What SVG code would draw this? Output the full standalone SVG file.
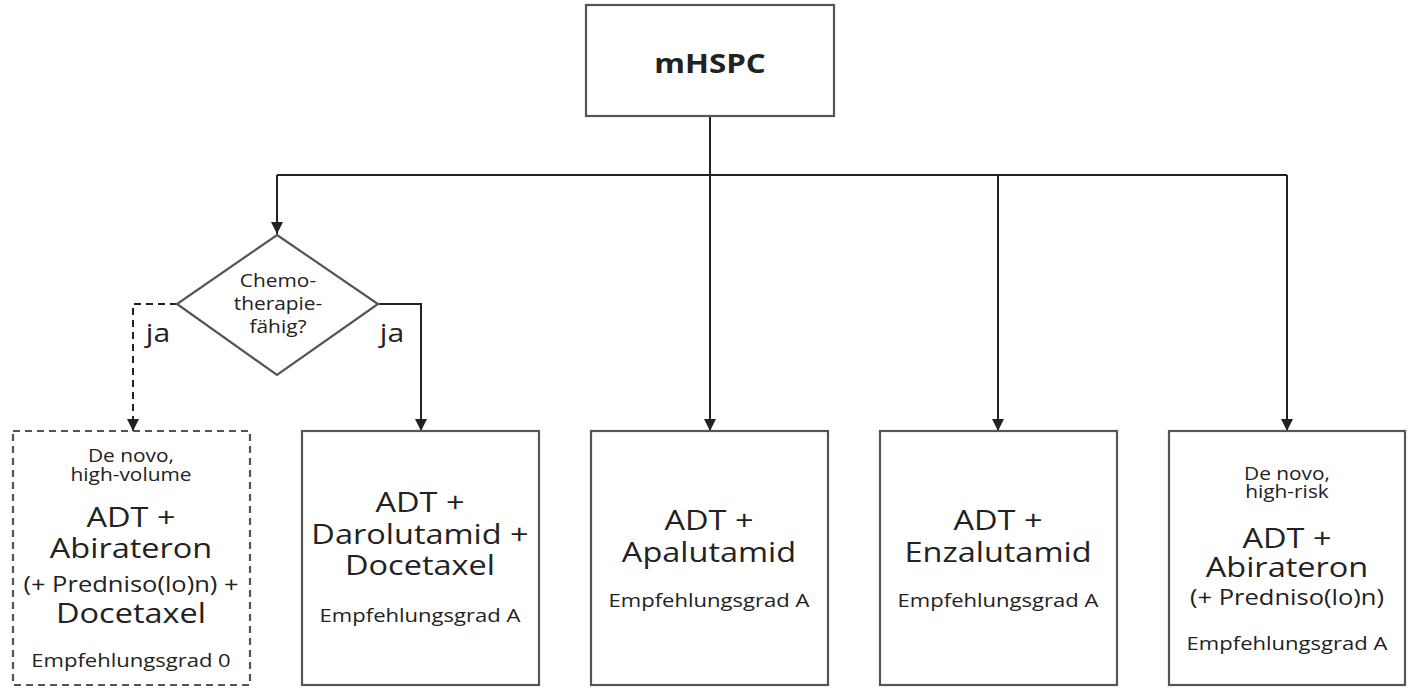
<svg xmlns="http://www.w3.org/2000/svg" width="1408" height="692" viewBox="0 0 1408 692">
<style>
text{font-family:"Open Sans","Noto Sans",sans-serif;fill:#222;text-anchor:middle}
.box{fill:#fff;stroke:#555;stroke-width:2.2}
.dash{stroke-dasharray:7 5}
.big{font-size:28px}
.mid{font-size:22px}
.sm{font-size:18px}
.gr{font-size:19px}
.con{fill:none;stroke:#222;stroke-width:2}
</style>
<defs>
<marker id="arr" viewBox="0 0 10 10" refX="10" refY="5" markerWidth="6" markerHeight="6" orient="auto" markerUnits="strokeWidth">
<path d="M0,0 L10,5 L0,10 z" fill="#222"/>
</marker>
</defs>
<rect width="1408" height="692" fill="#fff"/>
<g id="connectors">
<path class="con" d="M710,116 V175"/>
<path class="con" d="M277,175 H1287"/>
<path class="con" d="M277,175 V234" marker-end="url(#arr)"/>
<path class="con" d="M710,175 V431" marker-end="url(#arr)"/>
<path class="con" d="M998,175 V431" marker-end="url(#arr)"/>
<path class="con" d="M1287,175 V431" marker-end="url(#arr)"/>
<path class="con" d="M378,304 H421 V431" marker-end="url(#arr)"/>
<path class="con dash" d="M177,304 H133 V431" marker-end="url(#arr)"/>
<g transform="translate(158 0) scale(1.16 1) translate(-158 0)"><text x="158" y="342" style="font-size:26px">ja</text></g>
<g transform="translate(392 0) scale(1.16 1) translate(-392 0)"><text x="392" y="342" style="font-size:26px">ja</text></g>
</g>
<g id="root">
<rect class="box" x="586" y="5" width="248" height="111"/>
<g transform="translate(710 0) scale(1.16 1) translate(-710 0)">
<text x="710" y="73" style="font-size:27px;font-weight:bold">mHSPC</text>
</g>
</g>
<g id="decision">
<polygon class="box" points="277,235 378,304 277,375 177,304"/>
<g transform="translate(278 0) scale(1.16 1) translate(-278 0)">
<text x="278" y="287" style="font-size:18px">Chemo-</text>
<text x="278" y="310" style="font-size:18px">therapie-</text>
<text x="278" y="333" style="font-size:18px">fähig?</text>
</g>
</g>
<g id="n1">
<rect class="box dash" x="13" y="431" width="237" height="254"/>
<g transform="translate(131 0) scale(1.16 1) translate(-131 0)">
<text x="131" y="462" class="sm">De novo,</text>
<text x="131" y="481" class="sm">high-volume</text>
<text x="131" y="527" class="big">ADT +</text>
<text x="131" y="558" class="big">Abirateron</text>
<text x="131" y="592" class="mid">(+ Predniso(lo)n) +</text>
<text x="131" y="623" class="big">Docetaxel</text>
<text x="131" y="667" class="gr">Empfehlungsgrad 0</text>
</g>
</g>
<g id="n2">
<rect class="box" x="302" y="431" width="237" height="254"/>
<g transform="translate(420 0) scale(1.16 1) translate(-420 0)">
<text x="420" y="512" class="big">ADT +</text>
<text x="420" y="544" class="big">Darolutamid +</text>
<text x="420" y="575" class="big">Docetaxel</text>
<text x="420" y="622" class="gr">Empfehlungsgrad A</text>
</g>
</g>
<g id="n3">
<rect class="box" x="591" y="431" width="237" height="254"/>
<g transform="translate(709 0) scale(1.16 1) translate(-709 0)">
<text x="709" y="530" class="big">ADT +</text>
<text x="709" y="562" class="big">Apalutamid</text>
<text x="709" y="607" class="gr">Empfehlungsgrad A</text>
</g>
</g>
<g id="n4">
<rect class="box" x="880" y="431" width="237" height="254"/>
<g transform="translate(998 0) scale(1.16 1) translate(-998 0)">
<text x="998" y="530" class="big">ADT +</text>
<text x="998" y="562" class="big">Enzalutamid</text>
<text x="998" y="607" class="gr">Empfehlungsgrad A</text>
</g>
</g>
<g id="n5">
<rect class="box" x="1169" y="431" width="236" height="254"/>
<g transform="translate(1287 0) scale(1.16 1) translate(-1287 0)">
<text x="1287" y="480" class="sm">De novo,</text>
<text x="1287" y="498" class="sm">high-risk</text>
<text x="1287" y="548" class="big">ADT +</text>
<text x="1287" y="577" class="big">Abirateron</text>
<text x="1287" y="605" class="mid">(+ Predniso(lo)n)</text>
<text x="1287" y="650" class="gr">Empfehlungsgrad A</text>
</g>
</g>
</svg>
